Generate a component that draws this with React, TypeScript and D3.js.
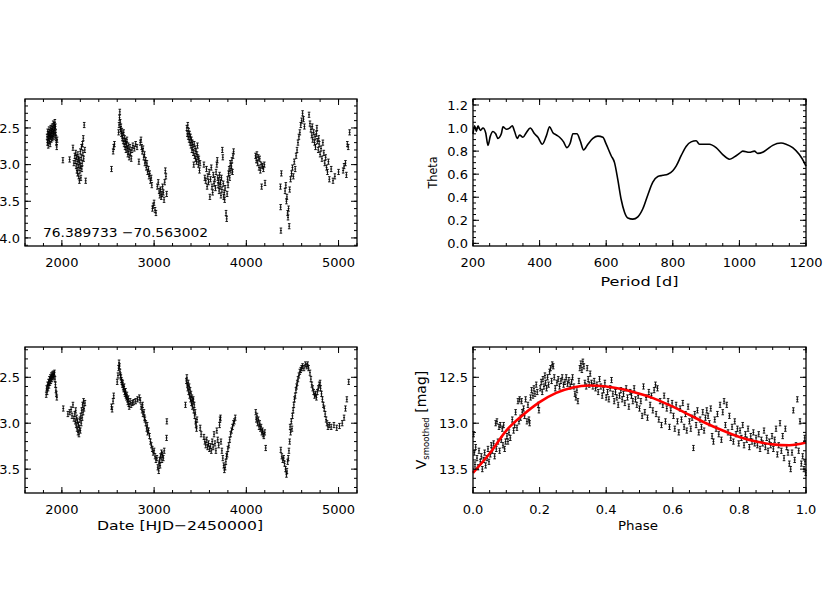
import React, { useEffect, useRef } from 'react';
import * as d3 from 'd3';

// ---- data ----

// raw V light curve [HJD-2450000, V mag]
const rawPoints: [number, number][] = [
  [1840,12.62],[1843,12.70],[1846,12.55],[1849,12.66],[1852,12.74],[1855,12.58],[1858,12.64],[1861,12.52],[1864,12.68],
  [1867,12.60],[1870,12.56],[1873,12.72],[1876,12.62],[1879,12.50],[1882,12.58],[1885,12.66],[1888,12.54],[1891,12.60],
  [1894,12.48],[1897,12.64],[1900,12.52],[1903,12.58],[1906,12.44],[1909,12.56],[1912,12.62],[1915,12.50],[1918,12.46],
  [1921,12.54],[1924,12.42],[1927,12.60],[1930,12.48],[1933,12.56],[1936,12.64],[1940,12.70],[1944,12.76],[1948,12.66],
  [2011,12.94],[2084,12.93],[2120,12.77],[2130,12.98],[2140,12.88],[2145,12.95],[2150,12.84],[2155,13.02],[2160,12.90],
  [2163,13.08],[2166,12.96],[2170,13.12],[2173,12.86],[2176,13.04],[2180,12.92],[2183,13.16],[2186,13.00],[2190,13.22],
  [2193,12.94],[2196,13.08],[2200,12.82],[2203,13.02],[2206,13.18],[2210,12.90],[2213,12.76],[2216,13.06],[2220,12.98],
  [2224,12.72],[2228,12.84],[2232,12.64],[2236,12.92],[2242,12.46],[2248,12.80],[2258,13.22],
  [2538,13.06],[2556,12.82],[2562,12.76],[2570,12.72],[2615,12.56],[2620,12.46],[2625,12.36],[2628,12.28],[2632,12.42],
  [2636,12.52],[2640,12.48],[2645,12.58],[2650,12.54],[2655,12.64],[2660,12.60],[2665,12.68],[2670,12.56],[2675,12.72],
  [2680,12.64],[2685,12.76],[2690,12.68],[2695,12.80],[2700,12.72],[2705,12.66],[2710,12.78],[2715,12.86],[2720,12.74],
  [2725,12.82],[2730,12.90],[2738,12.76],[2745,12.84],[2752,12.92],[2760,12.80],[2770,12.74],[2785,12.78],[2800,12.72],
  [2815,12.76],[2835,12.96],[2850,12.70],[2858,12.66],[2865,12.76],[2872,12.82],[2880,12.78],[2888,12.90],[2895,12.86],
  [2900,12.98],[2908,12.94],[2915,13.04],[2922,12.98],[2930,13.10],[2938,13.06],[2945,13.16],[2952,13.12],[2960,13.22],
  [2968,13.18],[2975,13.28],[2982,13.60],[2990,13.56],[3000,13.52],[3010,13.62],[3020,13.66],[3035,13.30],[3045,13.24],
  [3055,13.36],[3062,13.42],[3070,13.34],[3078,13.44],[3085,13.40],[3092,13.30],[3100,13.38],[3108,13.48],[3115,13.24],
  [3122,13.08],[3128,13.16],[3136,13.40],
  [3355,12.50],[3360,12.58],[3365,12.46],[3370,12.62],[3375,12.54],[3380,12.66],[3385,12.58],[3390,12.70],[3395,12.62],
  [3400,12.74],[3405,12.66],[3410,12.80],[3415,12.70],[3420,12.76],[3425,12.84],[3430,13.00],[3435,12.72],[3440,12.88],
  [3445,12.78],[3450,12.92],[3455,12.82],[3460,12.96],[3465,12.86],[3470,12.74],[3475,12.90],[3480,13.00],[3485,12.92],
  [3492,13.08],[3498,12.98],[3540,13.00],[3550,13.18],[3560,13.22],[3568,13.06],[3575,13.30],[3582,13.16],[3590,13.24],
  [3598,13.10],[3605,13.44],[3612,13.20],[3620,13.04],[3628,13.30],[3635,13.38],[3642,13.14],[3650,13.26],[3658,13.20],
  [3665,13.32],[3672,13.10],[3680,13.00],[3685,12.94],[3690,13.18],[3695,13.28],[3700,13.22],[3705,13.36],[3710,13.14],
  [3715,13.30],[3720,13.24],[3725,13.42],[3730,13.18],[3735,13.34],[3740,12.80],[3745,12.90],[3750,13.26],[3755,13.44],
  [3760,13.38],[3765,13.48],[3770,13.32],[3780,13.66],[3787,13.74],[3792,13.40],[3797,13.20],[3802,13.28],[3808,13.12],
  [3814,13.06],[3820,13.18],[3826,12.98],[3832,13.08],[3838,13.02],[3844,12.94],[3850,13.10],[3856,12.88],[3862,12.82],
  [4100,12.88],[4108,12.94],[4115,12.86],[4122,12.98],[4130,12.90],[4138,13.04],[4145,12.92],[4152,13.08],[4160,13.00],
  [4166,13.30],[4175,13.02],[4185,13.06],[4195,13.00],[4203,13.25],
  [4370,13.30],[4372,13.58],[4375,13.90],[4380,13.12],[4420,13.36],[4428,13.28],[4435,13.50],[4440,13.44],[4448,13.66],
  [4452,13.72],[4458,13.60],[4465,13.84],[4470,13.34],[4480,13.20],[4490,13.12],[4500,13.04],[4510,13.16],[4520,12.96],
  [4530,13.06],[4540,12.88],[4550,12.80],[4560,12.70],[4570,12.62],[4580,12.56],[4590,12.46],[4600,12.40],[4610,12.30],
  [4620,12.38],[4630,12.48],[4680,12.32],[4690,12.44],[4700,12.52],[4710,12.60],[4715,12.48],[4720,12.66],[4730,12.56],
  [4740,12.70],[4745,12.62],[4750,12.76],[4760,12.58],[4765,12.50],[4770,12.68],[4780,12.80],[4785,12.64],[4790,12.72],
  [4800,12.86],[4810,12.78],[4820,12.92],[4830,12.70],[4840,12.84],[4850,12.98],[4860,12.90],[4870,13.04],[4880,13.10],
  [4890,12.96],[4900,13.20],[4920,13.06],[4940,13.22],[4960,13.16],[5000,13.10],[5050,13.08],[5060,13.02],[5075,12.98],
  [5085,13.14],[5095,12.72],[5105,12.76],[5120,12.56],
];

// smoothed V light curve [HJD-2450000, V mag]
const smoothPoints: [number, number][] = [
  [1830,12.69],[1835,12.62],[1840,12.66],[1845,12.58],[1850,12.62],[1855,12.55],[1860,12.59],[1865,12.52],[1870,12.56],
  [1875,12.50],[1880,12.54],[1885,12.48],[1890,12.52],[1895,12.47],[1900,12.50],[1905,12.46],[1910,12.49],[1915,12.47],
  [1920,12.45],[1925,12.52],[1930,12.58],[1935,12.64],[1940,12.68],[1945,12.72],
  [2015,12.84],[2065,12.90],[2085,12.88],[2100,12.85],[2110,12.92],[2120,12.80],[2130,12.95],[2140,12.90],[2145,12.98],
  [2150,12.86],[2155,13.02],[2160,12.94],[2165,13.06],[2170,12.98],[2175,13.10],[2180,13.02],[2185,13.12],[2190,13.05],
  [2195,12.96],[2200,13.08],[2205,12.92],[2210,13.00],[2215,12.86],[2220,12.94],[2225,12.80],[2230,12.88],[2235,12.76],
  [2240,12.84],[2250,12.78],
  [2538,12.82],[2545,12.85],[2555,12.76],[2562,12.70],[2600,12.55],[2608,12.48],[2615,12.40],[2620,12.34],[2625,12.38],
  [2630,12.44],[2635,12.48],[2640,12.50],[2645,12.53],[2650,12.55],[2655,12.58],[2660,12.56],[2665,12.61],[2670,12.63],
  [2675,12.60],[2680,12.66],[2685,12.68],[2690,12.65],[2695,12.70],[2700,12.72],[2705,12.69],[2710,12.74],[2715,12.77],
  [2720,12.73],[2725,12.79],[2730,12.82],[2740,12.76],[2750,12.80],[2765,12.78],[2780,12.77],[2800,12.76],[2820,12.74],
  [2840,12.72],[2850,12.75],[2860,12.82],[2870,12.86],[2875,12.80],[2880,12.90],[2890,12.88],[2895,12.94],[2900,12.96],
  [2910,13.00],[2920,13.06],[2925,13.02],[2930,13.10],[2940,13.08],[2950,13.14],[2960,13.20],[2970,13.24],[2980,13.28],
  [2990,13.32],[3000,13.30],[3010,13.36],[3020,13.40],[3030,13.38],[3040,13.48],[3050,13.52],[3055,13.44],[3060,13.40],
  [3065,13.46],[3070,13.36],[3080,13.32],[3085,13.40],[3090,13.34],[3100,13.38],[3110,13.30],[3135,13.16],[3138,12.98],
  [3340,12.80],[3350,12.54],[3355,12.50],[3360,12.58],[3365,12.62],[3370,12.56],[3375,12.66],[3380,12.60],[3385,12.70],
  [3390,12.64],[3395,12.74],[3400,12.68],[3405,12.78],[3410,12.72],[3415,12.82],[3420,12.76],[3425,12.74],[3430,12.86],
  [3435,12.80],[3440,12.92],[3445,12.88],[3450,12.98],[3455,13.02],[3460,13.06],[3465,12.96],
  [3500,13.05],[3510,13.12],[3540,13.15],[3550,13.20],[3560,13.24],[3570,13.18],[3580,13.26],[3590,13.22],[3600,13.28],
  [3610,13.25],[3620,13.30],[3630,13.20],[3640,13.26],[3650,13.12],[3660,13.22],[3670,13.30],[3680,13.08],[3690,13.18],
  [3700,13.24],[3710,13.02],[3715,12.96],[3720,12.94],[3725,13.20],[3735,13.30],[3745,13.38],[3755,13.46],[3762,13.51],
  [3770,13.48],[3778,13.42],[3785,13.36],[3792,13.34],[3800,13.28],[3810,13.24],[3820,13.18],[3830,13.12],[3840,13.08],
  [3850,13.04],[3860,13.00],[3870,12.98],[3880,12.94],
  [4102,12.88],[4108,12.96],[4115,12.92],[4122,13.00],[4130,12.96],[4138,13.04],[4145,13.00],[4152,13.06],[4160,13.04],
  [4168,13.10],[4175,13.08],[4182,13.12],[4190,13.14],[4200,13.10],[4210,13.27],
  [4374,13.29],[4385,13.36],[4395,13.40],[4405,13.38],[4415,13.44],[4425,13.50],[4435,13.56],[4440,13.52],[4448,13.42],
  [4455,13.38],[4462,13.30],[4470,13.20],[4475,13.04],[4480,13.10],[4488,12.98],[4495,13.06],[4500,12.92],[4508,12.86],
  [4515,12.80],[4522,12.74],[4530,12.70],[4538,12.64],[4545,12.60],[4552,12.56],[4560,12.52],[4570,12.48],[4580,12.44],
  [4590,12.42],[4600,12.40],[4610,12.38],[4625,12.40],[4640,12.36],[4655,12.38],[4665,12.36],[4675,12.40],[4690,12.45],
  [4700,12.52],[4710,12.58],[4720,12.62],[4730,12.66],[4740,12.70],[4750,12.68],[4760,12.72],[4770,12.66],[4780,12.62],
  [4790,12.58],[4800,12.56],[4805,12.62],[4815,12.68],[4825,12.74],[4835,12.80],[4845,12.84],[4855,12.90],[4865,12.96],
  [4875,13.00],[4885,13.04],[4900,13.02],[4920,13.04],[4950,13.02],[4980,13.05],[5010,13.03],[5040,13.00],[5060,12.94],
  [5075,12.84],[5090,12.74],[5110,12.55],
];

// PDM theta spectrum [period d, theta]
const thetaSpectrum: [number, number][] = [
  [200,0.95],[205,1.02],[210,0.97],[215,1.02],[222,0.98],[230,1.00],[238,0.96],[245,0.85],[252,0.93],[260,0.97],
  [268,0.95],[275,0.91],[285,0.95],[290,1.01],[300,0.99],[310,1.00],[318,1.02],[325,0.97],[333,0.91],[340,0.94],
  [350,0.92],[360,0.96],[372,1.00],[385,0.95],[395,0.92],[408,0.86],[420,0.93],[430,1.01],[440,0.96],[450,0.94],
  [460,0.92],[472,0.88],[482,0.83],[492,0.87],[500,0.95],[512,0.95],[522,0.89],[532,0.81],[545,0.86],[560,0.91],
  [575,0.93],[590,0.92],[600,0.86],[615,0.76],[625,0.70],[635,0.55],[645,0.38],[655,0.27],[665,0.22],[680,0.21],
  [695,0.23],[710,0.30],[725,0.42],[740,0.53],[755,0.58],[770,0.59],[785,0.60],[800,0.63],[810,0.67],[825,0.76],
  [840,0.84],[855,0.88],[870,0.89],[880,0.86],[890,0.86],[910,0.86],[930,0.83],[950,0.77],[970,0.73],[985,0.75],
  [1000,0.78],[1010,0.80],[1030,0.79],[1045,0.80],[1055,0.78],[1070,0.79],[1085,0.82],[1100,0.85],[1125,0.87],
  [1140,0.86],[1160,0.83],[1180,0.77],[1195,0.70],[1200,0.67],
];

// phased smoothed light curve [phase, V mag]
const phasePoints: [number, number][] = [
  [0.002,13.12],[0.004,13.32],[0.006,13.45],[0.008,13.26],[0.012,13.38],[0.015,13.48],[0.018,13.30],[0.022,13.42],
  [0.025,13.36],[0.028,13.50],[0.032,13.40],[0.035,13.32],[0.038,13.46],[0.042,13.38],[0.045,13.28],[0.048,13.42],
  [0.052,13.34],[0.055,13.24],[0.058,13.30],[0.062,13.22],[0.065,13.36],[0.068,13.00],[0.070,13.28],[0.072,12.98],
  [0.075,13.20],[0.078,13.04],[0.080,13.30],[0.082,13.02],[0.085,13.18],[0.088,13.06],[0.090,13.24],[0.092,13.02],
  [0.095,13.28],[0.098,13.20],[0.102,13.14],[0.105,13.20],[0.108,13.10],[0.112,13.16],[0.118,12.96],[0.122,13.08],
  [0.125,13.02],[0.128,12.88],[0.132,13.05],[0.135,12.76],[0.138,12.98],[0.140,12.74],[0.143,12.94],[0.146,12.76],
  [0.148,12.88],[0.152,12.84],[0.155,12.92],[0.158,12.74],[0.162,12.98],[0.165,12.80],[0.168,12.96],[0.170,13.00],
  [0.173,12.72],[0.176,12.64],[0.180,12.70],[0.183,12.62],[0.186,12.68],[0.190,12.58],[0.193,12.66],[0.196,12.80],
  [0.198,12.86],[0.202,12.62],[0.205,12.55],[0.208,12.66],[0.210,12.52],[0.213,12.60],[0.216,12.48],[0.218,12.56],
  [0.221,12.62],[0.224,12.50],[0.227,12.58],[0.230,12.44],[0.233,12.40],[0.236,12.54],[0.238,12.36],[0.241,12.38],
  [0.244,12.50],[0.247,12.62],[0.252,12.56],[0.256,12.52],[0.260,12.60],[0.264,12.54],[0.268,12.50],[0.272,12.58],
  [0.276,12.55],[0.280,12.50],[0.284,12.57],[0.288,12.53],[0.292,12.60],[0.296,12.55],[0.299,12.50],[0.303,12.60],
  [0.306,12.68],[0.309,12.72],[0.312,12.64],[0.315,12.76],[0.318,12.54],[0.321,12.40],[0.324,12.35],[0.327,12.42],
  [0.330,12.33],[0.333,12.38],[0.336,12.56],[0.340,12.60],[0.343,12.40],[0.346,12.52],[0.349,12.58],[0.352,12.46],
  [0.356,12.56],[0.360,12.60],[0.364,12.54],[0.368,12.62],[0.372,12.58],[0.376,12.66],[0.380,12.52],[0.384,12.60],
  [0.388,12.70],[0.392,12.64],[0.396,12.56],[0.400,12.72],[0.404,12.66],[0.408,12.74],[0.412,12.62],[0.416,12.53],
  [0.420,12.68],[0.424,12.76],[0.428,12.66],[0.432,12.72],[0.436,12.80],[0.440,12.70],[0.444,12.64],[0.448,12.74],
  [0.452,12.68],[0.456,12.78],[0.460,12.62],[0.464,12.72],[0.468,12.82],[0.472,12.66],[0.476,12.70],[0.480,12.76],
  [0.484,12.62],[0.488,12.74],[0.492,12.80],[0.496,12.70],[0.500,12.84],[0.504,12.76],[0.508,12.92],[0.512,12.60],
  [0.516,12.88],[0.520,12.72],[0.524,12.94],[0.528,12.66],[0.532,12.80],[0.536,12.70],[0.540,12.86],[0.544,12.64],
  [0.548,12.58],[0.550,12.90],[0.554,12.62],[0.558,12.96],[0.562,12.76],[0.566,13.02],[0.570,12.80],[0.574,12.70],
  [0.578,12.98],[0.582,12.84],[0.586,12.76],[0.590,13.04],[0.594,12.86],[0.598,12.78],[0.602,12.92],[0.606,13.06],
  [0.610,12.80],[0.614,12.98],[0.618,13.10],[0.622,12.84],[0.626,12.96],[0.630,12.78],[0.634,13.04],[0.638,12.90],
  [0.642,13.08],[0.646,12.82],[0.650,12.98],[0.654,13.06],[0.658,12.94],[0.662,13.27],[0.666,12.90],[0.670,13.02],
  [0.674,12.86],[0.678,13.10],[0.682,12.96],[0.686,13.04],[0.690,12.88],[0.694,13.08],[0.698,12.94],[0.702,12.86],
  [0.706,12.92],[0.710,13.00],[0.714,12.84],[0.718,13.14],[0.722,13.20],[0.726,12.96],[0.730,13.06],[0.734,12.90],
  [0.738,13.12],[0.742,12.80],[0.746,13.18],[0.750,12.88],[0.754,12.76],[0.758,13.02],[0.762,12.80],[0.766,13.10],
  [0.770,12.92],[0.774,13.16],[0.778,13.04],[0.782,13.20],[0.786,12.98],[0.790,13.12],[0.794,13.06],[0.798,13.22],
  [0.802,13.08],[0.806,13.16],[0.810,13.02],[0.814,13.24],[0.818,13.12],[0.822,13.18],[0.826,13.06],[0.830,13.26],
  [0.834,13.14],[0.838,13.20],[0.842,13.10],[0.846,13.22],[0.850,13.16],[0.854,13.24],[0.858,13.12],[0.862,13.28],
  [0.866,13.18],[0.870,13.22],[0.874,13.08],[0.878,13.26],[0.882,13.16],[0.886,13.30],[0.890,13.20],[0.894,13.24],
  [0.898,13.14],[0.902,13.28],[0.906,13.18],[0.910,13.06],[0.914,13.34],[0.918,13.24],[0.922,13.00],[0.926,13.30],
  [0.930,13.14],[0.934,13.38],[0.938,13.06],[0.942,13.26],[0.946,13.32],[0.950,13.44],[0.954,13.50],[0.958,13.32],
  [0.962,12.86],[0.966,13.40],[0.970,13.24],[0.974,12.74],[0.978,13.30],[0.982,12.98],[0.986,13.44],[0.990,13.36],
  [0.994,13.50],[0.996,13.16],[0.997,13.42],[0.999,13.54],
];

// red fitted curve [phase, V mag]
const phaseFit: [number, number][] = [
  [0.00,13.54],[0.05,13.33],[0.10,13.08],[0.15,12.91],[0.20,12.77],[0.25,12.67],[0.30,12.61],[0.35,12.59],
  [0.40,12.60],[0.45,12.63],[0.50,12.68],[0.55,12.74],[0.60,12.82],[0.65,12.91],[0.70,13.00],[0.75,13.08],
  [0.80,13.15],[0.85,13.20],[0.90,13.23],[0.95,13.24],[1.00,13.21],
];

const dateTicks = [2000, 3000, 4000, 5000];
const magTicksTop = [12.5, 13.0, 13.5, 14.0];
const magTicksBottom = [12.5, 13.0, 13.5];
const periodTicks = [200, 400, 600, 800, 1000, 1200];
const thetaTicks = [0.0, 0.2, 0.4, 0.6, 0.8, 1.0, 1.2];
const phaseTicks = [0.0, 0.2, 0.4, 0.6, 0.8, 1.0];

const coordLabel = '76.389733 \u221270.563002';

const FONT = "'DejaVu Sans', sans-serif";

function minorTicks(domain: number[], step: number) {
  const lo = Math.min(domain[0], domain[1]);
  const hi = Math.max(domain[0], domain[1]);
  return d3.range(Math.ceil(lo / step - 1e-6), Math.floor(hi / step + 1e-6) + 1).map(i => +(i * step).toFixed(6));
}

function drawFrame(g, x, y, xTicks, xMinor, yTicks, yMinor, fmtX, fmtY) {
  const [x0, x1] = x.range();
  const [yb, yt] = y.range();
  const major = 6, minor = 3;

  const ticks = g.append('g').attr('stroke', '#000').attr('stroke-width', 1);
  const xt = (v, len) => {
    ticks.append('line').attr('x1', x(v)).attr('x2', x(v)).attr('y1', yb).attr('y2', yb - len);
    ticks.append('line').attr('x1', x(v)).attr('x2', x(v)).attr('y1', yt).attr('y2', yt + len);
  };
  const yTk = (v, len) => {
    ticks.append('line').attr('y1', y(v)).attr('y2', y(v)).attr('x1', x0).attr('x2', x0 + len);
    ticks.append('line').attr('y1', y(v)).attr('y2', y(v)).attr('x1', x1).attr('x2', x1 - len);
  };
  minorTicks(x.domain(), xMinor).forEach(v => xt(v, minor));
  xTicks.forEach(v => xt(v, major));
  minorTicks(y.domain(), yMinor).forEach(v => yTk(v, minor));
  yTicks.forEach(v => yTk(v, major));

  g.append('rect')
    .attr('x', x0).attr('y', yt)
    .attr('width', x1 - x0).attr('height', yb - yt)
    .attr('fill', 'none').attr('stroke', '#000').attr('stroke-width', 1.3);

  g.append('g').selectAll('text').data(xTicks).join('text')
    .attr('x', d => x(d)).attr('y', yb + 20.5)
    .attr('text-anchor', 'middle')
    .text(d => fmtX(d));

  g.append('g').selectAll('text').data(yTicks).join('text')
    .attr('x', x0 - 5).attr('y', d => y(d) + 4.7)
    .attr('text-anchor', 'end')
    .text(d => fmtY(d));
}

function drawErrorBars(g, x, y, pts, err) {
  const p = d3.path();
  pts.forEach(([a, m]) => {
    const cx = x(a);
    const t = y(m - err), b = y(m + err);
    p.moveTo(cx, t); p.lineTo(cx, b);
    p.moveTo(cx - 1.3, t); p.lineTo(cx + 1.3, t);
    p.moveTo(cx - 1.3, b); p.lineTo(cx + 1.3, b);
    p.moveTo(cx - 1, y(m)); p.lineTo(cx + 1, y(m));
  });
  g.append('path').attr('d', p.toString())
    .attr('fill', 'none').attr('stroke', '#000').attr('stroke-width', 0.9);
}

// stretched title text, closer to the wide plotting font of the original
function title(g, x, y, text, len, rotate = false) {
  const t = g.append('text')
    .attr('text-anchor', 'middle')
    .attr('textLength', len)
    .attr('lengthAdjust', 'spacingAndGlyphs');
  if (rotate) t.attr('transform', `translate(${x},${y}) rotate(-90)`);
  else t.attr('x', x).attr('y', y);
  t.text(text);
  return t;
}

export default function App() {
  const svgRef = useRef(null);

  useEffect(() => {
    const svg = d3.select(svgRef.current);
    svg.selectAll('*').remove();

    const root = svg.append('g')
      .attr('font-family', FONT)
      .attr('font-size', 13)
      .attr('fill', '#000');

    const fmtDate = d3.format('d');
    const fmt1 = d3.format('.1f');

    const leftX: [number, number] = [25, 357];
    const rightX: [number, number] = [473, 806];
    const topY: [number, number] = [246, 99];
    const botY: [number, number] = [493, 347];

    // top-left: raw light curve
    const xTL = d3.scaleLinear().domain([1600, 5200]).range(leftX);
    const yTL = d3.scaleLinear().domain([14.11, 12.105]).range(topY);
    const gTL = root.append('g');
    drawErrorBars(gTL, xTL, yTL, rawPoints, 0.035);
    drawFrame(gTL, xTL, yTL, dateTicks, 200, magTicksTop, 0.1, fmtDate, fmt1);
    gTL.append('text').attr('x', 43).attr('y', 236.5)
      .attr('textLength', 165).attr('lengthAdjust', 'spacingAndGlyphs')
      .text(coordLabel);

    // top-right: theta periodogram
    const xTR = d3.scaleLinear().domain([200, 1200]).range(rightX);
    const yTR = d3.scaleLinear().domain([-0.023, 1.252]).range(topY);
    const gTR = root.append('g');
    gTR.append('path')
      .datum(thetaSpectrum)
      .attr('d', d3.line().x(d => xTR(d[0])).y(d => yTR(d[1])).curve(d3.curveMonotoneX))
      .attr('fill', 'none').attr('stroke', '#000').attr('stroke-width', 1.6);
    drawFrame(gTR, xTR, yTR, periodTicks, 50, thetaTicks, 0.05, fmtDate, fmt1);
    title(gTR, (rightX[0] + rightX[1]) / 2, 286, 'Period [d]', 78);
    title(gTR, 437, (topY[0] + topY[1]) / 2, 'Theta', 32, true);

    // bottom-left: smoothed light curve
    const xBL = d3.scaleLinear().domain([1600, 5200]).range(leftX);
    const yBL = d3.scaleLinear().domain([13.76, 12.17]).range(botY);
    const gBL = root.append('g');
    drawErrorBars(gBL, xBL, yBL, smoothPoints, 0.028);
    drawFrame(gBL, xBL, yBL, dateTicks, 200, magTicksBottom, 0.1, fmtDate, fmt1);
    title(gBL, 180, 530, 'Date [HJD\u22122450000]', 166);

    // bottom-right: phased curve with fit
    const xBR = d3.scaleLinear().domain([0, 1]).range(rightX);
    const yBR = d3.scaleLinear().domain([13.76, 12.17]).range(botY);
    const gBR = root.append('g');
    drawErrorBars(gBR, xBR, yBR, phasePoints, 0.028);
    gBR.append('path')
      .datum(phaseFit)
      .attr('d', d3.line().x(d => xBR(d[0])).y(d => yBR(d[1])).curve(d3.curveMonotoneX))
      .attr('fill', 'none').attr('stroke', '#ff0000').attr('stroke-width', 2.6);
    drawFrame(gBR, xBR, yBR, phaseTicks, 0.05, magTicksBottom, 0.1, fmt1, fmt1);
    title(gBR, 638, 530, 'Phase', 40);
    const vl = gBR.append('text')
      .attr('transform', `translate(426,${(botY[0] + botY[1]) / 2}) rotate(-90)`)
      .attr('text-anchor', 'middle');
    vl.append('tspan').attr('font-size', 14).text('V');
    vl.append('tspan').attr('font-size', 8.5).attr('dy', 3).text('smoothed');
    vl.append('tspan').attr('dy', -3).attr('font-size', 14).text(' [mag]');
  }, []);

  return (
    <svg
      ref={svgRef}
      width={830}
      height={593}
      style={{ position: 'absolute', left: 0, top: 0, display: 'block', background: '#fff' }}
    />
  );
}
